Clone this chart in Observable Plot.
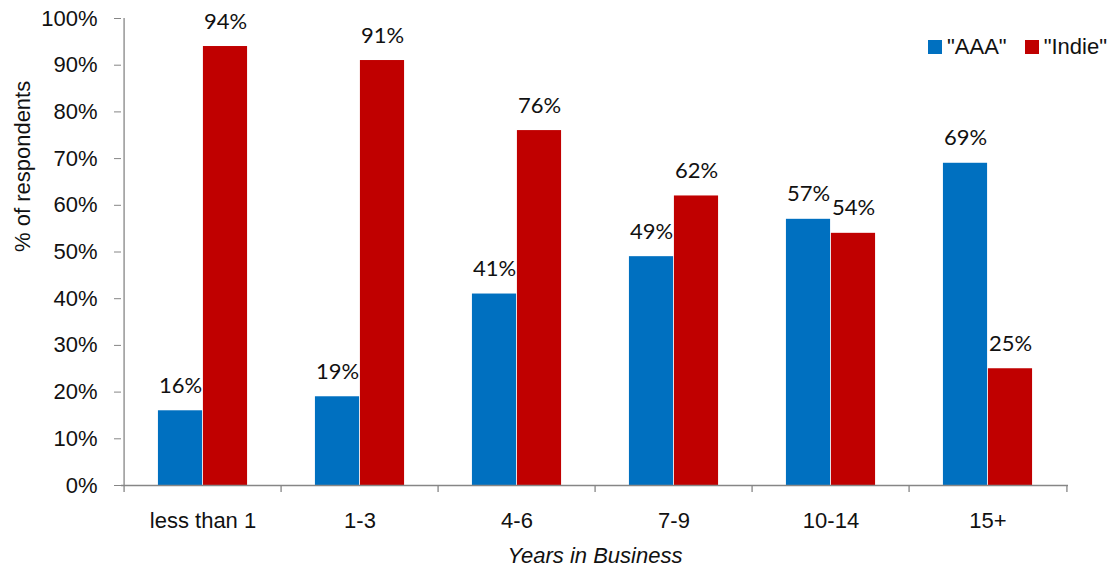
<!DOCTYPE html>
<html>
<head>
<meta charset="utf-8">
<script src="https://cdn.jsdelivr.net/npm/d3@7"></script>
<script src="https://cdn.jsdelivr.net/npm/@observablehq/plot@0.6"></script>
<style>
  html, body { margin: 0; padding: 0; background: #fff; }
  #wrap { position: relative; width: 1112px; height: 570px; }
  .legend { position: absolute; top: 34px; left: 928px; display: flex; align-items: center; white-space: nowrap;
    font-family: "Liberation Sans", Arial, sans-serif; font-size: 22px; color: #111; }
  .legend .sw { width: 14px; height: 14px; display: inline-block; margin-right: 5px; }
  .legend .item { display: flex; align-items: center; margin-right: 18px; }
</style>
</head>
<body>
<div id="wrap"></div>
<script>
const categories = ["less than 1", "1-3", "4-6", "7-9", "10-14", "15+"];
const series = ["\"AAA\"", "\"Indie\""];
const aaaValues = [16, 19, 41, 49, 57, 69];
const indieValues = [94, 91, 76, 62, 54, 25];
const yTicks = [0, 10, 20, 30, 40, 50, 60, 70, 80, 90, 100];
const colors = ["#0070C0", "#C00000"];

const W = 1112, H = 570;
const mL = 121, mR = 44, mT = 18, mB = 85;
const bw = (W - mL - mR) / categories.length;
const barW = bw * 0.285;
const side = (bw - 2 * barW) / 2;

const rows = [];
categories.forEach((c, i) => {
  rows.push({cat: c, series: series[0], v: aaaValues[i]});
  rows.push({cat: c, series: series[1], v: indieValues[i]});
});
const aaa = rows.filter(d => d.series === series[0]);
const indie = rows.filter(d => d.series === series[1]);

const sans = "'Liberation Sans', Arial, sans-serif";
const labelFont = "Lato, 'Open Sans', sans-serif";
const axisColor = "#868686";

const plot = Plot.plot({
  width: W, height: H,
  marginLeft: mL, marginRight: mR, marginTop: mT, marginBottom: mB,
  style: {fontFamily: sans, fontSize: "22px", color: "#111", background: "#fff"},
  x: {domain: categories, paddingInner: 0, paddingOuter: 0, axis: null},
  y: {domain: [0, 100], axis: null},
  marks: [
    Plot.barY(aaa, {x: "cat", y: "v", fill: colors[0], insetLeft: side, insetRight: bw - side - barW}),
    Plot.barY(indie, {x: "cat", y: "v", fill: colors[1], insetLeft: side + barW, insetRight: side}),
    Plot.text(aaa, {x: "cat", y: "v", text: d => d.v + "%", dx: side + barW / 2 - bw / 2, dy: -25,
      fontFamily: labelFont, fontSize: 22, fill: "#111"}),
    Plot.text(indie, {x: "cat", y: "v", text: d => d.v + "%", dx: bw / 2 - side - barW / 2, dy: -25,
      fontFamily: labelFont, fontSize: 22, fill: "#111"}),
    Plot.ruleY([0], {stroke: axisColor, strokeWidth: 1.3}),
    Plot.ruleX([categories[0]], {dx: -bw / 2, y1: 0, y2: 100, stroke: axisColor, strokeWidth: 1.3}),
    Plot.ruleX(categories, {x: d => d, dx: -bw / 2, y1: 0, y2: 0, insetBottom: -7, stroke: axisColor, strokeWidth: 1.3}),
    Plot.ruleX([categories[categories.length - 1]], {x: d => d, dx: bw / 2, y1: 0, y2: 0, insetBottom: -7, stroke: axisColor, strokeWidth: 1.3}),
    Plot.axisY({ticks: yTicks, tickSize: 7, tickPadding: 17, tickFormat: d => d + "%", label: null, stroke: axisColor, color: "#111"}),
    Plot.axisX({tickSize: 0, tickPadding: 27, label: null, color: "#111"}),
    Plot.text(["% of respondents"], {frameAnchor: "left", rotate: -90, dx: -99, fill: "#111", fontSize: 22}),
    Plot.text(["Years in Business"], {frameAnchor: "bottom", dy: 77, fill: "#111", fontSize: 22, fontStyle: "italic"})
  ]
});

const wrap = document.getElementById("wrap");
wrap.appendChild(plot);
const legend = document.createElement("div");
legend.className = "legend";
series.forEach((s, i) => {
  const item = document.createElement("span");
  item.className = "item";
  const sw = document.createElement("span");
  sw.className = "sw";
  sw.style.background = colors[i];
  item.appendChild(sw);
  item.appendChild(document.createTextNode(s));
  legend.appendChild(item);
});
wrap.appendChild(legend);
</script>
</body>
</html>
